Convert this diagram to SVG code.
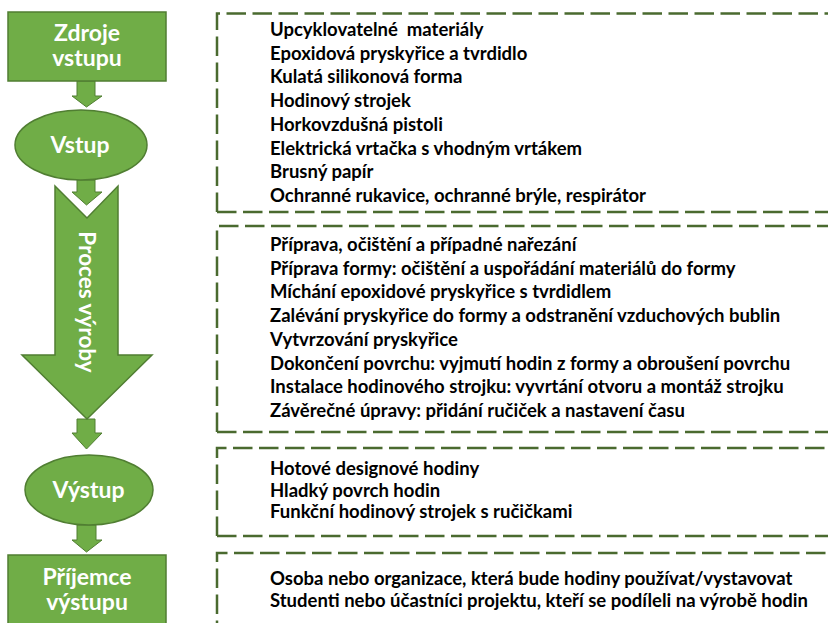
<svg xmlns="http://www.w3.org/2000/svg" width="828" height="623" viewBox="0 0 828 623">
<style>
.node{fill:#70AD47;stroke:#507E32;stroke-width:1.5}
.arr{fill:#70AD47;stroke:#507E32;stroke-width:1}
.lbl{font-family:Lato,"Liberation Sans",sans-serif;font-weight:bold;font-size:23px;fill:#fff;text-anchor:middle}
.box{fill:none;stroke:#4A6A2F;stroke-width:2.5;stroke-dasharray:19.5 6.5}
.txt{font-family:Lato,"Liberation Sans",sans-serif;font-weight:bold;font-size:18.5px;fill:#000}
</style>
<rect width="828" height="623" fill="#fff"/>
<g id="connectors">
<path class="arr" d="M77,81 H95 V96 H102 L86.5,107 L72,96 H77 Z"/>
<path class="arr" d="M77,180 H95 V192 H102 L86.5,205 L72,192 H77 Z"/>
<path class="arr" d="M77,419 H95 V433 H102 L86.5,449 L72,433 H77 Z"/>
<path class="arr" d="M77,525 H96 V540 H102 L86.5,552 L72,540 H77 Z"/>
</g>
<g id="zdroje">
<rect class="node" x="8" y="12" width="158" height="69"/>
<text class="lbl" x="87" y="41">Zdroje</text>
<text class="lbl" x="87" y="66">vstupu</text>
</g>
<g id="vstup">
<ellipse class="node" cx="81" cy="145" rx="66" ry="35"/>
<text class="lbl" x="80" y="153">Vstup</text>
</g>
<g id="proces">
<path class="node" d="M55,186 L87,218 L118,186 V355 H152 L87,419 L22,355 H55 Z"/>
<text class="lbl" style="font-size:22.5px" transform="translate(79,302) rotate(90)" x="0" y="0">Proces výroby</text>
</g>
<g id="vystup">
<ellipse class="node" cx="89" cy="490" rx="64" ry="35"/>
<text class="lbl" x="88.5" y="497.5">Výstup</text>
</g>
<g id="prijemce">
<rect class="node" x="8" y="555" width="158" height="80"/>
<text class="lbl" x="87" y="585">Příjemce</text>
<text class="lbl" x="87" y="610">výstupu</text>
</g>
<g id="box-vstup">
<path class="box" d="M217,212 V13.5 H832 M217,212 H832"/>
<text class="txt" x="270" y="36" xml:space="preserve">Upcyklovatelné  materiály</text>
<text class="txt" x="270" y="59.7">Epoxidová pryskyřice a tvrdidlo</text>
<text class="txt" x="270" y="83.4">Kulatá silikonová forma</text>
<text class="txt" x="270" y="107.1">Hodinový strojek</text>
<text class="txt" x="270" y="130.8">Horkovzdušná pistoli</text>
<text class="txt" x="270" y="154.5">Elektrická vrtačka s vhodným vrtákem</text>
<text class="txt" x="270" y="178.2">Brusný papír</text>
<text class="txt" x="270" y="201.9">Ochranné rukavice, ochranné brýle, respirátor</text>
</g>
<g id="box-proces">
<path class="box" d="M217,432 V226 H832 M217,432 H832"/>
<text class="txt" x="270" y="251">Příprava, očištění a případné nařezání</text>
<text class="txt" x="270" y="274.7">Příprava formy: očištění a uspořádání materiálů do formy</text>
<text class="txt" x="270" y="298.4">Míchání epoxidové pryskyřice s tvrdidlem</text>
<text class="txt" x="270" y="322.1">Zalévání pryskyřice do formy a odstranění vzduchových bublin</text>
<text class="txt" x="270" y="345.8">Vytvrzování pryskyřice</text>
<text class="txt" x="270" y="369.5">Dokončení povrchu: vyjmutí hodin z formy a obroušení povrchu</text>
<text class="txt" x="270" y="393.2">Instalace hodinového strojku: vyvrtání otvoru a montáž strojku</text>
<text class="txt" x="270" y="416.9">Závěrečné úpravy: přidání ručiček a nastavení času</text>
</g>
<g id="box-vystup">
<path class="box" d="M217,536 V448 H832 M217,536 H832"/>
<text class="txt" x="270" y="475">Hotové designové hodiny</text>
<text class="txt" x="270" y="496.7">Hladký povrch hodin</text>
<text class="txt" x="270" y="518.3">Funkční hodinový strojek s ručičkami</text>
</g>
<g id="box-prijemce">
<path class="box" d="M217,640 V553 H832"/>
<text class="txt" x="270" y="585">Osoba nebo organizace, která bude hodiny používat/vystavovat</text>
<text class="txt" x="270" y="607">Studenti nebo účastníci projektu, kteří se podíleli na výrobě hodin</text>
</g>
</svg>
